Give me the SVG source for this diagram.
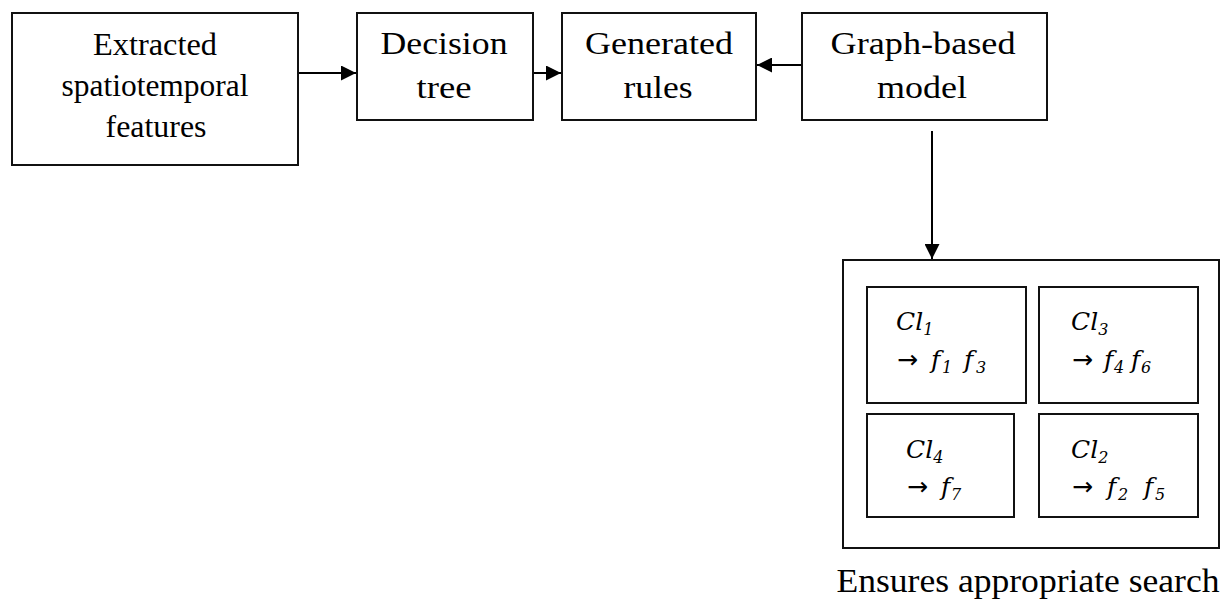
<svg xmlns="http://www.w3.org/2000/svg" width="1232" height="600" viewBox="0 0 1232 600">
<style>
.box{fill:#fff;stroke:#111;stroke-width:2}
.t{font-family:"Liberation Serif","Times New Roman",serif;font-size:31px;fill:#000;text-anchor:middle}
.m{font-family:"DejaVu Serif","Liberation Serif",serif;font-style:italic;font-size:25px;fill:#000}
.s{font-size:16px}
.ar{font-family:"DejaVu Sans","Liberation Sans",sans-serif;font-style:normal;font-size:25px}
.c{fill:none;stroke:#000;stroke-width:2}
</style>
<defs>
<marker id="ah" markerWidth="15" markerHeight="15" refX="15" refY="7.5" orient="auto" markerUnits="userSpaceOnUse">
<path d="M0,0 L15,7.5 L0,15 Z" fill="#000"/>
</marker>
</defs>
<rect width="1232" height="600" fill="#fff"/>
<g id="connectors">
<line class="c" x1="298" y1="73" x2="356" y2="73" marker-end="url(#ah)"/>
<line class="c" x1="533" y1="73" x2="561" y2="73" marker-end="url(#ah)"/>
<line class="c" x1="802" y1="65" x2="757" y2="65" marker-end="url(#ah)"/>
<line class="c" x1="932" y1="131" x2="932" y2="259" marker-end="url(#ah)"/>
</g>
<g id="extracted">
<rect class="box" x="12" y="13" width="286" height="152"/>
<text class="t" x="155" y="55" textLength="124" lengthAdjust="spacingAndGlyphs">Extracted</text>
<text class="t" x="155" y="96" textLength="187" lengthAdjust="spacingAndGlyphs">spatiotemporal</text>
<text class="t" x="156" y="137" textLength="101" lengthAdjust="spacingAndGlyphs">features</text>
</g>
<g id="decision">
<rect class="box" x="357" y="13" width="176" height="107"/>
<text class="t" x="444" y="54" textLength="127" lengthAdjust="spacingAndGlyphs">Decision</text>
<text class="t" x="444" y="98" textLength="55" lengthAdjust="spacingAndGlyphs">tree</text>
</g>
<g id="generated">
<rect class="box" x="562" y="13" width="194" height="107"/>
<text class="t" x="659" y="54" textLength="148" lengthAdjust="spacingAndGlyphs">Generated</text>
<text class="t" x="658" y="98" textLength="69" lengthAdjust="spacingAndGlyphs">rules</text>
</g>
<g id="graph">
<rect class="box" x="802" y="13" width="245" height="107"/>
<text class="t" x="923" y="54" textLength="185" lengthAdjust="spacingAndGlyphs">Graph-based</text>
<text class="t" x="922" y="98" textLength="90" lengthAdjust="spacingAndGlyphs">model</text>
</g>
<g id="clusters">
<rect class="box" x="843" y="260" width="376" height="288"/>
<g id="cl1">
<rect class="box" x="867" y="287" width="159" height="116"/>
<text class="m" x="896" y="330">Cl<tspan class="s" dy="5">1</tspan></text>
<text class="m" y="368"><tspan class="ar" x="897">→</tspan><tspan x="931">f</tspan><tspan class="s" x="942" dy="5">1</tspan><tspan x="964" dy="-5">f</tspan><tspan class="s" x="976" dy="5">3</tspan></text>
</g>
<g id="cl3">
<rect class="box" x="1039" y="287" width="159" height="116"/>
<text class="m" x="1071" y="330">Cl<tspan class="s" dy="5">3</tspan></text>
<text class="m" y="368"><tspan class="ar" x="1072">→</tspan><tspan x="1104">f</tspan><tspan class="s" x="1114" dy="5">4</tspan><tspan x="1131" dy="-5">f</tspan><tspan class="s" x="1141" dy="5">6</tspan></text>
</g>
<g id="cl4">
<rect class="box" x="867" y="414" width="147" height="103"/>
<text class="m" x="906" y="458">Cl<tspan class="s" dy="5">4</tspan></text>
<text class="m" y="495"><tspan class="ar" x="907">→</tspan><tspan x="941">f</tspan><tspan class="s" x="951" dy="5">7</tspan></text>
</g>
<g id="cl2">
<rect class="box" x="1039" y="414" width="159" height="103"/>
<text class="m" x="1071" y="458">Cl<tspan class="s" dy="5">2</tspan></text>
<text class="m" y="495"><tspan class="ar" x="1072">→</tspan><tspan x="1107">f</tspan><tspan class="s" x="1118" dy="5">2</tspan><tspan x="1144" dy="-5">f</tspan><tspan class="s" x="1155" dy="5">5</tspan></text>
</g>
</g>
<text class="t" x="1028" y="592" style="font-size:33px" textLength="383" lengthAdjust="spacingAndGlyphs">Ensures appropriate search</text>
</svg>
